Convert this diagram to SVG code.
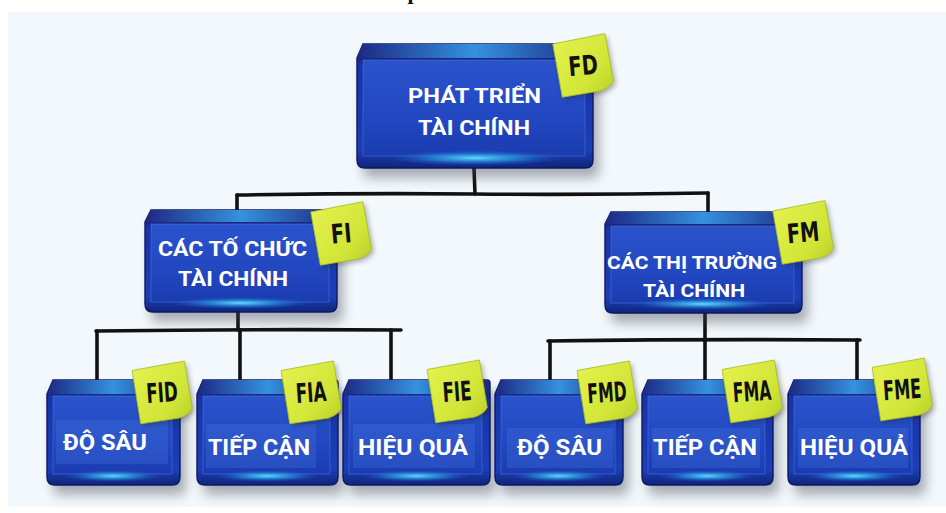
<svg xmlns="http://www.w3.org/2000/svg" xmlns:xlink="http://www.w3.org/1999/xlink" width="946" height="513" viewBox="0 0 946 513">
  <style>
    .bg { fill: #f3f8fc; }
    .shadow { fill: #3a4250; opacity: 0.42; filter: url(#soft); }
    .body { fill: url(#gBody); stroke: #0f1862; stroke-width: 1.4; }
    .top { fill: url(#gTop); }
    .face { fill: url(#gFace); stroke: #4f7ae4; stroke-width: 1; stroke-opacity: 0.5; }
    .glow { fill: url(#gGlow); }
    .panel { fill: #4576e0; opacity: 0.3; }
    .title { fill: #ffffff; font-family: Roboto, "Open Sans", "DejaVu Sans", sans-serif; font-weight: bold; }
    .note { fill: url(#gNote); stroke: #a9bf1e; stroke-width: 0.8; }
    .noteShadow { fill: #222; opacity: 0.35; filter: url(#soft2); }
    .tag { fill: #111; font-family: "DejaVu Sans", "Liberation Sans", sans-serif; font-weight: bold; font-size: 27px; text-anchor: middle; }
    .wire { fill: none; stroke: #111; stroke-width: 3.6; stroke-linecap: round; stroke-linejoin: round; }
  </style>
  <defs>
    <filter id="soft" x="-20%" y="-20%" width="140%" height="150%">
      <feGaussianBlur stdDeviation="6"/>
    </filter>
    <filter id="soft2" x="-30%" y="-30%" width="160%" height="160%">
      <feGaussianBlur stdDeviation="2.5"/>
    </filter>
    <linearGradient id="gBody" x1="0" y1="0" x2="0" y2="1">
      <stop offset="0" stop-color="#22308e"/>
      <stop offset="0.13" stop-color="#1a2780"/>
      <stop offset="0.16" stop-color="#1833a6"/>
      <stop offset="0.85" stop-color="#1b3fb6"/>
      <stop offset="1" stop-color="#10257a"/>
    </linearGradient>
    <linearGradient id="gTop" x1="0" y1="0" x2="1" y2="0">
      <stop offset="0" stop-color="#1d2884"/>
      <stop offset="0.5" stop-color="#3592de"/>
      <stop offset="1" stop-color="#1d2884"/>
    </linearGradient>
    <linearGradient id="gFace" x1="0" y1="0" x2="0" y2="1">
      <stop offset="0" stop-color="#2a54cc"/>
      <stop offset="0.6" stop-color="#2247c0"/>
      <stop offset="1" stop-color="#1b3cb0"/>
    </linearGradient>
    <radialGradient id="gGlow" cx="0.5" cy="0.5" r="0.5">
      <stop offset="0" stop-color="#5fe0ff" stop-opacity="1"/>
      <stop offset="0.5" stop-color="#2aa0e8" stop-opacity="0.6"/>
      <stop offset="1" stop-color="#1f50c8" stop-opacity="0"/>
    </radialGradient>
    <linearGradient id="gNote" x1="0" y1="0" x2="1" y2="1">
      <stop offset="0" stop-color="#e4f24e"/>
      <stop offset="0.7" stop-color="#d0e436"/>
      <stop offset="1" stop-color="#b9d02a"/>
    </linearGradient>
    <!-- sticky note centred on the origin, bottom-right corner slightly curled -->
    <path id="notePath" d="M-27,-25 L26,-28 L28,20 Q24,26 14,28 L-25,29 Z"/>
  </defs>

  <!-- page -->
  <rect x="0" y="0" width="946" height="513" fill="#ffffff"/>
  <rect class="bg" x="8" y="12" width="938" height="495"/>
  <text x="407.5" y="-1" font-family="Liberation Serif, serif" font-weight="bold" font-size="22" fill="#111">p</text>

  <!-- connectors -->
  <g id="connectors">
    <path class="wire" d="M474,168 L475,194"/>
    <path class="wire" d="M237,195 Q360,193 474,194 T708,193"/>
    <path class="wire" d="M237,195 V210"/>
    <path class="wire" d="M708,193 V212"/>
    <path class="wire" d="M238,312 V330"/>
    <path class="wire" d="M96,331 Q250,329 401,330"/>
    <path class="wire" d="M97,331 V380"/>
    <path class="wire" d="M240,330 V380"/>
    <path class="wire" d="M391,330 V380"/>
    <path class="wire" d="M705,313 V341"/>
    <path class="wire" d="M548,341 Q700,339 860,340"/>
    <path class="wire" d="M550,341 V380"/>
    <path class="wire" d="M705,341 V380"/>
    <path class="wire" d="M857,340 V380"/>
  </g>

  <!-- root: financial development -->
  <g id="node-fd">
    <rect class="shadow" x="363" y="54" width="236" height="124" rx="6"/>
    <path class="body" d="M363,44 H590 Q593,44 593,47 V160 Q593,168 585,168 H365 Q357,168 357,160 V58 Z"/>
    <path class="top" d="M363,44 H590 Q593,44 593,47 L592,58 H357 Z"/>
    <rect class="face" x="363" y="60" width="222" height="96"/>
    <ellipse class="glow" cx="475" cy="158" rx="90" ry="8"/>
    <text class="title" x="408" y="103" font-size="21" textLength="133" lengthAdjust="spacingAndGlyphs">PHÁT TRIỂN</text>
    <text class="title" x="418" y="135" font-size="21" textLength="112" lengthAdjust="spacingAndGlyphs">TÀI CHÍNH</text>
    <g transform="translate(583,65) rotate(-8)">
      <use href="#notePath" class="noteShadow" x="2" y="3"/>
      <use href="#notePath" class="note"/>
      <text class="tag" transform="rotate(3) scale(0.72 1)" x="0" y="10">FD</text>
    </g>
  </g>

  <!-- institutions -->
  <g id="node-fi">
    <rect class="shadow" x="151" y="220" width="192" height="102" rx="6"/>
    <path class="body" d="M151,210 H334 Q337,210 337,213 V304 Q337,312 329,312 H153 Q145,312 145,304 V222 Z"/>
    <path class="top" d="M151,210 H334 Q337,210 337,213 L336,222 H145 Z"/>
    <rect class="face" x="151" y="224" width="178" height="78"/>
    <ellipse class="glow" cx="241" cy="303" rx="72" ry="6"/>
    <text class="title" x="158" y="256" font-size="20" textLength="149" lengthAdjust="spacingAndGlyphs">CÁC TỐ CHỨC</text>
    <text class="title" x="178" y="286" font-size="20" textLength="110" lengthAdjust="spacingAndGlyphs">TÀI CHÍNH</text>
    <g transform="translate(341,233) rotate(-8)">
      <use href="#notePath" class="noteShadow" x="2" y="3"/>
      <use href="#notePath" class="note"/>
      <text class="tag" transform="rotate(3) scale(0.72 1)" x="0" y="10">FI</text>
    </g>
  </g>

  <!-- markets -->
  <g id="node-fm">
    <rect class="shadow" x="611" y="222" width="197" height="101" rx="6"/>
    <path class="body" d="M611,212 H799 Q802,212 802,215 V305 Q802,313 794,313 H613 Q605,313 605,305 V224 Z"/>
    <path class="top" d="M611,212 H799 Q802,212 802,215 L801,224 H605 Z"/>
    <rect class="face" x="611" y="226" width="183" height="77"/>
    <ellipse class="glow" cx="703" cy="304" rx="74" ry="6"/>
    <text class="title" x="607" y="269" font-size="19" textLength="170" lengthAdjust="spacingAndGlyphs">CÁC THỊ TRƯỜNG</text>
    <text class="title" x="643" y="297" font-size="19" textLength="102" lengthAdjust="spacingAndGlyphs">TÀI CHÍNH</text>
    <g transform="translate(803,232) rotate(-8)">
      <use href="#notePath" class="noteShadow" x="2" y="3"/>
      <use href="#notePath" class="note"/>
      <text class="tag" transform="rotate(3) scale(0.72 1)" x="0" y="10">FM</text>
    </g>
  </g>

  <!-- institutions: depth -->
  <g id="node-fid">
    <rect class="shadow" x="53" y="390" width="133" height="105" rx="6"/>
    <path class="body" d="M53,380 H177 Q180,380 180,383 V477 Q180,485 172,485 H55 Q47,485 47,477 V394 Z"/>
    <path class="top" d="M53,380 H177 Q180,380 180,383 L179,394 H47 Z"/>
    <rect class="face" x="53" y="396" width="119" height="78"/>
    <rect class="panel" x="56" y="420" width="112" height="44"/>
    <ellipse class="glow" cx="113" cy="476" rx="50" ry="6"/>
    <text class="title" x="63" y="450" font-size="22" textLength="84" lengthAdjust="spacingAndGlyphs">ĐỘ SÂU</text>
    <g transform="translate(162,392) rotate(-7)">
      <use href="#notePath" class="noteShadow" x="2" y="3"/>
      <use href="#notePath" class="note"/>
      <text class="tag" transform="rotate(3) scale(0.62 1)" x="0" y="10">FID</text>
    </g>
  </g>

  <!-- institutions: access -->
  <g id="node-fia">
    <rect class="shadow" x="203" y="390" width="141" height="105" rx="6"/>
    <path class="body" d="M203,380 H335 Q338,380 338,383 V477 Q338,485 330,485 H205 Q197,485 197,477 V394 Z"/>
    <path class="top" d="M203,380 H335 Q338,380 338,383 L337,394 H197 Z"/>
    <rect class="face" x="203" y="396" width="127" height="78"/>
    <rect class="panel" x="206" y="424" width="110" height="44"/>
    <ellipse class="glow" cx="267" cy="476" rx="53" ry="6"/>
    <text class="title" x="208" y="455" font-size="22" textLength="102" lengthAdjust="spacingAndGlyphs">TIẾP CẬN</text>
    <g transform="translate(311,392) rotate(-7)">
      <use href="#notePath" class="noteShadow" x="2" y="3"/>
      <use href="#notePath" class="note"/>
      <text class="tag" transform="rotate(3) scale(0.62 1)" x="0" y="10">FIA</text>
    </g>
  </g>

  <!-- institutions: efficiency -->
  <g id="node-fie">
    <rect class="shadow" x="349" y="390" width="147" height="105" rx="6"/>
    <path class="body" d="M349,380 H487 Q490,380 490,383 V477 Q490,485 482,485 H351 Q343,485 343,477 V394 Z"/>
    <path class="top" d="M349,380 H487 Q490,380 490,383 L489,394 H343 Z"/>
    <rect class="face" x="349" y="396" width="133" height="78"/>
    <rect class="panel" x="353" y="424" width="122" height="44"/>
    <ellipse class="glow" cx="416" cy="476" rx="55" ry="6"/>
    <text class="title" x="358" y="455" font-size="22" textLength="110" lengthAdjust="spacingAndGlyphs">HIỆU QUẢ</text>
    <g transform="translate(457,391) rotate(-7)">
      <use href="#notePath" class="noteShadow" x="2" y="3"/>
      <use href="#notePath" class="note"/>
      <text class="tag" transform="rotate(3) scale(0.62 1)" x="0" y="10">FIE</text>
    </g>
  </g>

  <!-- markets: depth -->
  <g id="node-fmd">
    <rect class="shadow" x="501" y="390" width="128" height="105" rx="6"/>
    <path class="body" d="M501,380 H620 Q623,380 623,383 V477 Q623,485 615,485 H503 Q495,485 495,477 V394 Z"/>
    <path class="top" d="M501,380 H620 Q623,380 623,383 L622,394 H495 Z"/>
    <rect class="face" x="501" y="396" width="114" height="78"/>
    <rect class="panel" x="507" y="428" width="106" height="40"/>
    <ellipse class="glow" cx="559" cy="476" rx="48" ry="6"/>
    <text class="title" x="517" y="455" font-size="22" textLength="85" lengthAdjust="spacingAndGlyphs">ĐỘ SÂU</text>
    <g transform="translate(607,392) rotate(-7)">
      <use href="#notePath" class="noteShadow" x="2" y="3"/>
      <use href="#notePath" class="note"/>
      <text class="tag" transform="rotate(3) scale(0.58 1)" x="0" y="10">FMD</text>
    </g>
  </g>

  <!-- markets: access -->
  <g id="node-fma">
    <rect class="shadow" x="648" y="390" width="131" height="105" rx="6"/>
    <path class="body" d="M648,380 H770 Q773,380 773,383 V477 Q773,485 765,485 H650 Q642,485 642,477 V394 Z"/>
    <path class="top" d="M648,380 H770 Q773,380 773,383 L772,394 H642 Z"/>
    <rect class="face" x="648" y="396" width="117" height="78"/>
    <rect class="panel" x="652" y="428" width="108" height="40"/>
    <ellipse class="glow" cx="707" cy="476" rx="49" ry="6"/>
    <text class="title" x="653" y="455" font-size="22" textLength="104" lengthAdjust="spacingAndGlyphs">TIẾP CẬN</text>
    <g transform="translate(752,391) rotate(-7)">
      <use href="#notePath" class="noteShadow" x="2" y="3"/>
      <use href="#notePath" class="note"/>
      <text class="tag" transform="rotate(3) scale(0.58 1)" x="0" y="10">FMA</text>
    </g>
  </g>

  <!-- markets: efficiency -->
  <g id="node-fme">
    <rect class="shadow" x="794" y="390" width="132" height="105" rx="6"/>
    <path class="body" d="M794,380 H917 Q920,380 920,383 V477 Q920,485 912,485 H796 Q788,485 788,477 V394 Z"/>
    <path class="top" d="M794,380 H917 Q920,380 920,383 L919,394 H788 Z"/>
    <rect class="face" x="794" y="396" width="118" height="78"/>
    <rect class="panel" x="798" y="428" width="110" height="40"/>
    <ellipse class="glow" cx="854" cy="476" rx="50" ry="6"/>
    <text class="title" x="800" y="455" font-size="22" textLength="108" lengthAdjust="spacingAndGlyphs">HIỆU QUẢ</text>
    <g transform="translate(902,389) rotate(-7)">
      <use href="#notePath" class="noteShadow" x="2" y="3"/>
      <use href="#notePath" class="note"/>
      <text class="tag" transform="rotate(3) scale(0.6 1)" x="0" y="10">FME</text>
    </g>
  </g>
</svg>
